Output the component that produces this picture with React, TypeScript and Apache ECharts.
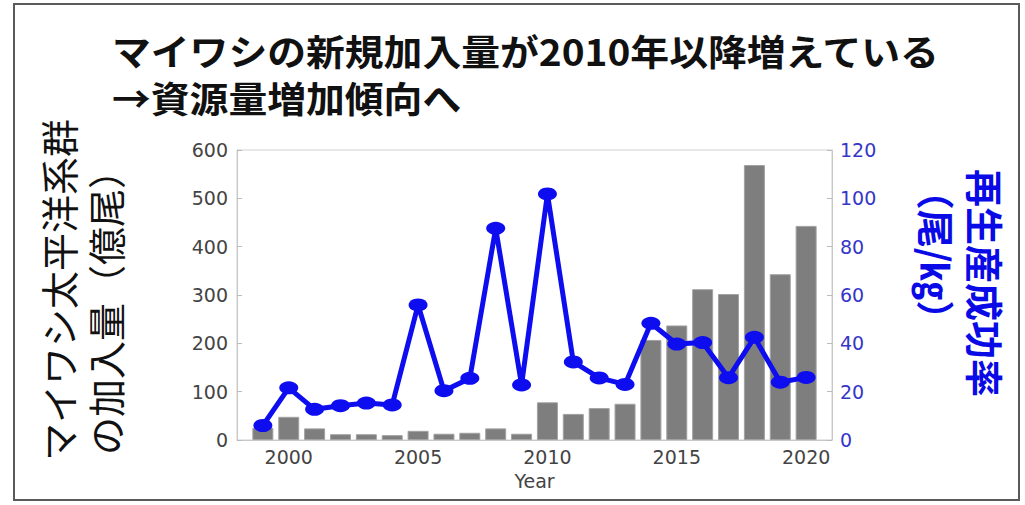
import React, { useEffect, useRef } from "react";
import * as echarts from "echarts";

const years = [1999, 2000, 2001, 2002, 2003, 2004, 2005, 2006, 2007, 2008, 2009, 2010, 2011, 2012, 2013, 2014, 2015, 2016, 2017, 2018, 2019, 2020];
const recruitment = [25, 48, 24, 12, 12, 10, 19, 13, 15, 24, 13, 78, 54, 66, 75, 207, 237, 312, 302, 569, 343, 443];
const rps = [6, 21.6, 12.7, 14.2, 15.3, 14.5, 55.9, 20.4, 25.5, 87.6, 22.8, 101.8, 32.3, 25.7, 23, 48.3, 39.7, 40.3, 25.8, 42.5, 23.9, 25.9];
const xTickLabels = [2000, 2005, 2010, 2015, 2020];

const titleLine1 = "マイワシの新規加入量が2010年以降増えている";
const titleLine2 = "→資源量増加傾向へ";
const leftName1 = "マイワシ太平洋系群";
const leftName2 = "の加入量（億尾）";
const rightName1 = "再生産成功率";
const rightName2 = "（尾/㎏）";
const xName = "Year";

export default function App() {
  const ref = useRef<HTMLDivElement>(null);
  useEffect(() => {
    if (!ref.current) return;
    const chart = echarts.init(ref.current, null, { renderer: "svg" });
    const labelFont = "DejaVu Sans";
    const cjk = "Noto Sans CJK JP";
    chart.setOption({
      animation: false,
      backgroundColor: "#ffffff",
      grid: { left: 237, right: 193, top: 150, bottom: 65, show: true, borderColor: "#d0d0d0", borderWidth: 1 },
      xAxis: {
        type: "value",
        min: 1998,
        max: 2021,
        name: xName,
        nameLocation: "middle",
        nameGap: 31,
        nameTextStyle: { fontFamily: labelFont, fontSize: 19, color: "#444" },
        axisLine: { show: true, lineStyle: { color: "#c8c8c8" } },
        axisTick: { show: true, inside: true, length: 4, customValues: xTickLabels, lineStyle: { color: "#bbb" } },
        axisLabel: { customValues: xTickLabels, formatter: (v: number) => String(v), fontFamily: labelFont, fontSize: 19, color: "#444", margin: 7 },
        splitLine: { show: false },
      },
      yAxis: [
        {
          type: "value",
          min: 0,
          max: 600,
          interval: 100,
          position: "left",
          axisLine: { show: true, lineStyle: { color: "#c8c8c8" } },
          axisTick: { show: true, inside: true, length: 5, lineStyle: { color: "#bbb" } },
          axisLabel: { fontFamily: labelFont, fontSize: 19, color: "#444", margin: 9 },
          splitLine: { show: false },
        },
        {
          type: "value",
          min: 0,
          max: 120,
          interval: 20,
          position: "right",
          axisLine: { show: true, lineStyle: { color: "#c8c8c8" } },
          axisTick: { show: true, inside: true, length: 5, lineStyle: { color: "#bbb" } },
          axisLabel: { fontFamily: labelFont, fontSize: 19, color: "#3535c8", margin: 8 },
          splitLine: { show: false },
        },
      ],
      series: [
        {
          type: "bar",
          yAxisIndex: 0,
          barWidth: 21,
          itemStyle: { color: "#7e7e7e", borderColor: "#a2a2a2", borderWidth: 1 },
          data: years.map((y, i) => [y, recruitment[i]]),
          z: 2,
        },
        {
          type: "line",
          yAxisIndex: 1,
          symbol: "circle",
          symbolSize: [19, 13],
          lineStyle: { color: "#0d0df0", width: 5 },
          itemStyle: { color: "#0d0df0" },
          data: years.map((y, i) => [y, rps[i]]),
          z: 3,
        },
      ],
      graphic: [
        { type: "rect", shape: { x: 14, y: 4, width: 1005, height: 496 }, style: { fill: "none", stroke: "#5a5a5a", lineWidth: 2 }, silent: true },
        { type: "text", x: 112, y: 51, scaleX: 1.078, style: { text: titleLine1, font: `bold 36px "${cjk}"`, fill: "#111", textAlign: "left", textVerticalAlign: "middle" } },
        { type: "text", x: 112, y: 98, scaleX: 1.078, style: { text: titleLine2, font: `bold 36px "${cjk}"`, fill: "#111", textAlign: "left", textVerticalAlign: "middle" } },
        { type: "text", x: 57, y: 290, rotation: Math.PI / 2, style: { text: leftName1, font: `38px "${cjk}"`, fill: "#111", textAlign: "center", textVerticalAlign: "middle" } },
        { type: "text", x: 104, y: 303, rotation: Math.PI / 2, style: { text: leftName2, font: `38px "${cjk}"`, fill: "#111", textAlign: "center", textVerticalAlign: "middle" } },
        { type: "text", x: 986, y: 283, rotation: -Math.PI / 2, style: { text: rightName1, font: `bold 38px "${cjk}"`, fill: "#0a0ae6", textAlign: "center", textVerticalAlign: "middle" } },
        { type: "text", x: 937, y: 255, rotation: -Math.PI / 2, style: { text: rightName2, font: `bold 38px "${cjk}"`, fill: "#0a0ae6", textAlign: "center", textVerticalAlign: "middle" } },
      ],
    });
    return () => chart.dispose();
  }, []);
  return <div ref={ref} style={{ position: "absolute", left: 0, top: 0, width: 1025, height: 505 }} />;
}
